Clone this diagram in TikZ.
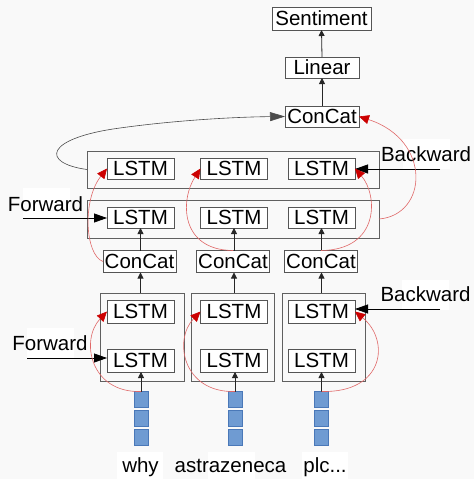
\documentclass[tikz,border=0pt]{standalone}
\usepackage{fontspec}
\setmainfont{Liberation Sans}
\usetikzlibrary{arrows.meta}
\definecolor{bg}{HTML}{F9F9F9}
\definecolor{boxline}{HTML}{555555}
\definecolor{outerline}{HTML}{606060}
\definecolor{redline}{HTML}{E06868}
\definecolor{redtip}{HTML}{CC0000}
\definecolor{sqfill}{HTML}{6F9BD2}
\definecolor{sqline}{HTML}{4A78B8}
\begin{document}
\begin{tikzpicture}[x=1pt,y=-1pt,
 every node/.style={font=\fontsize{20.5}{24}\selectfont, inner sep=0pt, outer sep=0pt},
 box/.style={draw=boxline, line width=0.9pt, fill=white, text height=14.7pt, text depth=0pt, minimum height=21pt},
 lstm/.style={box, minimum width=67pt},
 cat/.style={box, minimum width=73pt, minimum height=22pt},
 outer/.style={draw=outerline, line width=1pt},
 sq/.style={draw=sqline, fill=sqfill, minimum width=14pt, minimum height=16pt, line width=0.6pt},
 lbl/.style={text height=14.7pt, text depth=0pt},
 bgw/.style={fill=white, minimum width=47pt, minimum height=30pt},
 up/.style={-{Triangle[length=6pt,width=6pt]}, line width=0.8pt, draw=black!85},
 side/.style={-{Triangle[length=13pt,width=9pt]}, line width=0.8pt},
 skip/.style={-{Triangle[length=10pt,width=9pt,color=redtip]}, draw=redline, line width=0.6pt},
]
\fill[bg] (0,0) rectangle (474,479);
\useasboundingbox (0,0) rectangle (474,479);

% top
\node[box, minimum width=99pt, minimum height=23pt] (sent) at (321.5,18.5) {Sentiment};
\node[box, minimum width=74pt] (lin) at (322,67.5) {Linear};
\node[box, minimum width=74pt] (ctop) at (322,116.5) {ConCat};

% upper bidirectional layer
\node[outer, minimum width=292pt, minimum height=37pt] (bbox) at (233,169.5) {};
\node[outer, minimum width=292pt, minimum height=38pt] (fbox) at (233,219) {};
\node[lstm] (bl1) at (140.5,168.5) {LSTM};
\node[lstm] (bl2) at (234,168.5) {LSTM};
\node[lstm] (bl3) at (321.5,168.5) {LSTM};
\node[lstm] (fl1) at (140.5,217.5) {LSTM};
\node[lstm] (fl2) at (234,217.5) {LSTM};
\node[lstm] (fl3) at (321.5,217.5) {LSTM};

% concat row
\node[cat] (c1) at (139.5,261.5) {ConCat};
\node[cat] (c2) at (233,261.5) {ConCat};
\node[cat] (c3) at (321,261.5) {ConCat};

% lower layer
\node[outer, minimum width=84pt, minimum height=88pt] (lb1) at (142,337) {};
\node[outer, minimum width=83pt, minimum height=88pt] (lb2) at (232.5,337) {};
\node[outer, minimum width=83pt, minimum height=88pt] (lb3) at (323.5,337) {};
\node[lstm, minimum height=23pt] (ub1) at (140.5,311.5) {LSTM};
\node[lstm, minimum height=23pt] (ub2) at (234,311.5) {LSTM};
\node[lstm, minimum height=23pt] (ub3) at (321.5,311.5) {LSTM};
\node[lstm, minimum height=23pt] (lf1) at (140.5,360.5) {LSTM};
\node[lstm, minimum height=23pt] (lf2) at (234,360.5) {LSTM};
\node[lstm, minimum height=23pt] (lf3) at (321.5,360.5) {LSTM};

% embeddings
\node[sq] (s1a) at (141,399.5) {};
\node[sq] (s1b) at (141,418.5) {};
\node[sq] (s1c) at (141,437.5) {};
\node[sq] (s2a) at (235,399.5) {};
\node[sq] (s2b) at (235,418.5) {};
\node[sq] (s2c) at (235,437.5) {};
\node[sq] (s3a) at (321.5,399.5) {};
\node[sq] (s3b) at (321.5,418.5) {};
\node[sq] (s3c) at (321.5,437.5) {};

% label backgrounds
\node[bgw] (bw1bg) at (426,154) {};
\node[bgw] (fw1bg) at (46.5,203) {};
\node[bgw] (fw2bg) at (50,343) {};
\node[bgw] (bw2bg) at (425.5,294.5) {};
\node[fill=white, minimum width=46pt, minimum height=32pt] (w1bg) at (140,468) {};
\node[fill=white, minimum width=47pt, minimum height=32pt] (w2bg) at (231.5,468) {};
\node[fill=white, minimum width=46pt, minimum height=32pt] (w3bg) at (325,468) {};

% labels
\node[lbl] (bw1) at (426,154.5) {Backward};
\node[lbl] (fw1) at (45.5,204) {Forward};
\node[lbl] (fw2) at (50,343.5) {Forward};
\node[lbl] (bw2) at (425.5,294.5) {Backward};
\node[anchor=base] (w1) at (140.5,472) {why};
\node[anchor=base] (w2) at (230.5,472) {astrazeneca};
\node[anchor=base] (w3) at (325,472) {plc...};

% vertical arrows
\draw[up] (lin.north) -- (sent.south);
\draw[up] (ctop.north) -- (lin.south);
\draw[up] (c1.north -| fl1) -- (fl1.south);
\draw[up] (c2.north -| fl2) -- (fl2.south);
\draw[up] (c3.north -| fl3) -- (fl3.south);
\draw[up] (lb1.north -| ub1) -- (c1.south -| ub1);
\draw[up] (lb2.north -| ub2) -- (c2.south -| ub2);
\draw[up] (lb3.north -| ub3) -- (c3.south -| ub3);
\draw[up] (s1a.north) -- (lf1.south -| s1a);
\draw[up] (s2a.north) -- (lf2.south -| s2a);
\draw[up] (s3a.north) -- (lf3.south -| s3a);

% forward / backward inputs
\coordinate (fw1s) at (23,218);
\coordinate (bw1s) at (440,169);
\coordinate (fw2s) at (27,358);
\coordinate (bw2s) at (440,309);
\draw[side] (fw1s) -- (fw1s -| fl1.west);
\draw[side] (bw1s) -- (bw1s -| bl3.east);
\draw[side] (fw2s) -- (fw2s -| lf1.west);
\draw[side] (bw2s) -- (bw2s -| ub3.east);

% black loop into top ConCat
\draw[-{Triangle[length=15pt,width=9pt]}, line width=0.6pt, draw=black!70]
  (bbox.west) .. controls (40,163) and (45,138) .. (120,128)
  .. controls (170,121) and (230,117) .. (ctop.west);

% red skip arrows
\draw[skip] (c1.west) .. controls (85,255) and (82,200) .. (bl1.west);
\draw[skip] (c2.north) .. controls (180,250) and (180,200) .. (bl2.west);
\draw[skip] (c3.north) .. controls (380,250) and (378,195) .. (bl3.east);
\draw[skip] (fbox.east) .. controls (428,215) and (432,140) .. (ctop.east);
\draw[skip] (s1a.north) .. controls (90,393) and (80,340) .. (ub1.west);
\draw[skip] (s2a.north) .. controls (183,393) and (173,340) .. (ub2.west);
\draw[skip] (s3a.north) .. controls (385,393) and (390,340) .. (ub3.east);
\end{tikzpicture}
\end{document}
